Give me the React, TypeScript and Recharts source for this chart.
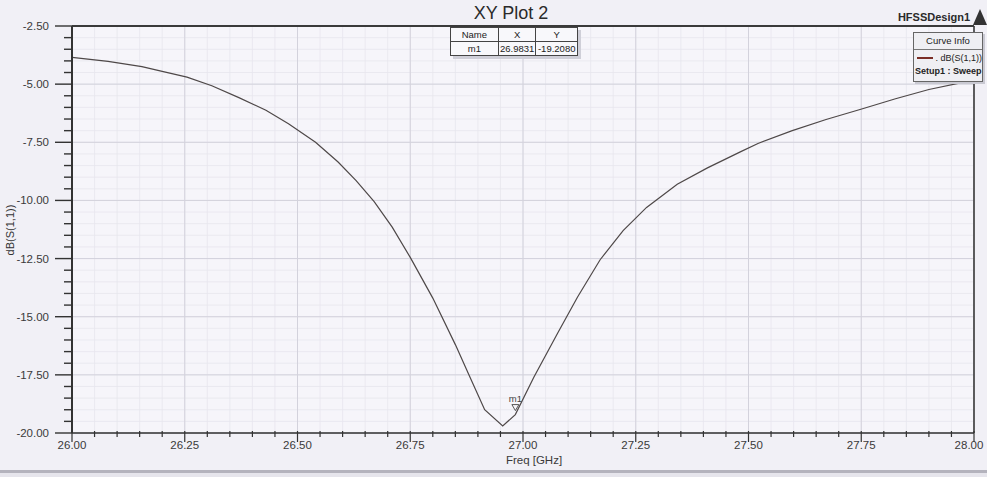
import React from 'react';
import { ComposedChart, Line, Scatter, XAxis, YAxis, CartesianGrid, ReferenceLine } from 'recharts';

// ---- data ----
const freqGHz = [
  26.0, 26.08, 26.155, 26.2, 26.255, 26.31, 26.37, 26.43, 26.48, 26.54, 26.59, 26.63, 26.67, 26.71,
  26.75, 26.8, 26.85, 26.88, 26.915, 26.955, 26.983, 27.024, 27.077, 27.121, 27.171, 27.222, 27.274,
  27.342, 27.409, 27.483, 27.521, 27.597, 27.672, 27.751, 27.826, 27.9, 27.978, 28.0,
];
const s11dB = [
  -3.85, -4.02, -4.25, -4.45, -4.7, -5.07, -5.58, -6.12, -6.7, -7.5, -8.35, -9.15, -10.05, -11.15,
  -12.45, -14.2, -16.2, -17.5, -19.0, -19.7, -19.208, -17.6, -15.7, -14.15, -12.55, -11.3, -10.3,
  -9.3, -8.6, -7.9, -7.55, -7.0, -6.52, -6.07, -5.63, -5.23, -4.91, -4.85,
];
const markerName = 'm1';
const markerFreq = 26.9831;
const markerDb = -19.208;

const xMajorTicks = [26.0, 26.25, 26.5, 26.75, 27.0, 27.25, 27.5, 27.75, 28.0];
const yMajorTicks = [-20, -17.5, -15, -12.5, -10, -7.5, -5, -2.5];
const xAllTicks = Array.from({ length: 41 }, (_, i) => Math.round((26 + i * 0.05) * 100) / 100);
const yAllTicks = Array.from({ length: 36 }, (_, i) => -20 + i * 0.5);

const curveData = freqGHz.map((f, i) => ({ f, db: s11dB[i] }));
const markerData = [{ f: markerFreq, db: markerDb }];

const FONT = '"Liberation Sans", Arial, sans-serif';
const isMajor = (v: number, arr: number[]) => arr.some((t) => Math.abs(t - v) < 1e-6);

const XTick = (props: any) => {
  const { x, y, payload } = props;
  const v = payload.value as number;
  const major = isMajor(v, xMajorTicks);
  const lx = v >= 28 ? x - 5 : x;
  return (
    <g>
      <line x1={x} x2={x} y1={y - 2} y2={y + (major ? 9 : 4)} stroke="#333" strokeWidth={1.2} />
      {major && (
        <text x={lx} y={y + 16} textAnchor="middle" fontSize={11.5} fill="#3a3a3a" fontFamily={FONT}>
          {v.toFixed(2)}
        </text>
      )}
    </g>
  );
};

const YTick = (props: any) => {
  const { x, y, payload } = props;
  const v = payload.value as number;
  const major = isMajor(v, yMajorTicks);
  return (
    <g>
      <line x1={x - (major ? 17 : 8)} x2={x} y1={y} y2={y} stroke="#333" strokeWidth={1.4} />
      {major && (
        <text x={x - 23} y={y + 4} textAnchor="end" fontSize={11.5} fill="#3a3a3a" fontFamily={FONT}>
          {v.toFixed(2)}
        </text>
      )}
    </g>
  );
};

const MarkerShape = (props: any) => {
  const { cx, cy } = props;
  return (
    <g>
      <path d={`M${cx - 3.5},${cy - 10} L${cx + 3.5},${cy - 10} L${cx},${cy - 4} Z`} fill="none" stroke="#444" strokeWidth={0.9} />
      <text x={cx} y={cy - 13} textAnchor="middle" fontSize={9.5} fill="#444" fontFamily={FONT}>
        {markerName}
      </text>
    </g>
  );
};

const cell: React.CSSProperties = {
  border: '1px solid #444',
  padding: 0,
  textAlign: 'center',
  fontSize: 9.5,
  lineHeight: '13px',
  color: '#222',
  fontFamily: FONT,
};

export default function App() {
  return (
    <div
      style={{
        position: 'absolute',
        left: 0,
        top: 0,
        width: 987,
        height: 477,
        background: '#f1f0f6',
        overflow: 'hidden',
        fontFamily: FONT,
      }}
    >
      <ComposedChart width={987} height={477} data={curveData} margin={{ top: 26, right: 13, bottom: 0, left: 0 }}>
        <CartesianGrid
          stroke="#e7e6ee"
          strokeWidth={0.8}
          fill="#f6f5fa"
          horizontalValues={yAllTicks}
          verticalValues={xAllTicks}
        />
        <CartesianGrid stroke="#d3d2dc" strokeWidth={1} horizontalValues={yMajorTicks} verticalValues={xMajorTicks} />
        <XAxis
          dataKey="f"
          type="number"
          domain={[26, 28]}
          ticks={xAllTicks}
          interval={0}
          allowDataOverflow
          height={44}
          tickLine={false}
          tickSize={0}
          tickMargin={0}
          axisLine={{ stroke: '#333', strokeWidth: 1.6 }}
          tick={(p: any) => <XTick {...p} />}
        />
        <YAxis
          dataKey="db"
          type="number"
          domain={[-20, -2.5]}
          ticks={yAllTicks}
          interval={0}
          allowDataOverflow
          width={72}
          tickLine={false}
          tickSize={0}
          tickMargin={0}
          axisLine={{ stroke: '#333', strokeWidth: 2 }}
          tick={(p: any) => <YTick {...p} />}
        />
        <ReferenceLine y={-2.5} stroke="#3a3a3a" strokeWidth={2} />
        <ReferenceLine x={28} stroke="#3a3a3a" strokeWidth={1.6} />
        <Line
          type="linear"
          dataKey="db"
          stroke="#4e4848"
          strokeWidth={1.2}
          dot={false}
          activeDot={false}
          isAnimationActive={false}
        />
        <Scatter data={markerData} dataKey="db" shape={(p: any) => <MarkerShape {...p} />} isAnimationActive={false} />
      </ComposedChart>

      <svg width={987} height={477} style={{ position: 'absolute', left: 0, top: 0, pointerEvents: 'none' }}>
        <text x={511} y={19} textAnchor="middle" fontSize={18} fill="#2a2a2a" fontFamily={FONT}>
          XY Plot 2
        </text>
        <text x={934} y={21} textAnchor="middle" fontSize={11} fontWeight="bold" fill="#2a2a2a" fontFamily={FONT}>
          HFSSDesign1
        </text>
        <path d="M973,25 L980,9 L987,25 Z" fill="#333" />
        <text
          transform="translate(14,230) rotate(-90)"
          textAnchor="middle"
          fontSize={11}
          fill="#333"
          fontFamily={FONT}
        >
          dB(S(1,1))
        </text>
        <text x={534} y={464} textAnchor="middle" fontSize={11.5} fill="#3a3a3a" fontFamily={FONT}>
          Freq [GHz]
        </text>
      </svg>

      {/* marker table */}
      <table
        style={{
          position: 'absolute',
          left: 450,
          top: 27,
          width: 128,
          borderCollapse: 'collapse',
          background: '#f8f8fb',
          boxShadow: '3px 3px 0 #cfcfd8',
        }}
      >
        <tbody>
          <tr>
            <td style={{ ...cell, width: 50 }}>Name</td>
            <td style={{ ...cell, width: 37 }}>X</td>
            <td style={{ ...cell, width: 41 }}>Y</td>
          </tr>
          <tr>
            <td style={cell}>{markerName}</td>
            <td style={cell}>{markerFreq.toFixed(4)}</td>
            <td style={cell}>{markerDb.toFixed(4)}</td>
          </tr>
        </tbody>
      </table>

      {/* curve info legend */}
      <div
        style={{
          position: 'absolute',
          left: 913,
          top: 32,
          width: 70,
          height: 50,
          border: '1px solid #666',
          background: '#efeff3',
          boxShadow: '2px 2px 0 #c9c9d2',
          boxSizing: 'border-box',
        }}
      >
        <div
          style={{
            height: 16,
            borderBottom: '1px solid #777',
            fontSize: 9.5,
            lineHeight: '16px',
            textAlign: 'center',
            color: '#222',
          }}
        >
          Curve Info
        </div>
        <div style={{ display: 'flex', alignItems: 'center', height: 15, paddingLeft: 3, fontSize: 9, color: '#222', whiteSpace: 'nowrap' }}>
          <span style={{ display: 'inline-block', width: 17, height: 2, background: '#7a2e26', marginRight: 2 }} />
          <span>. dB(S(1,1))</span>
        </div>
        <div style={{ height: 13, paddingLeft: 1, fontSize: 9, lineHeight: '12px', color: '#222', whiteSpace: 'nowrap', fontWeight: 'bold' }}>
          Setup1 : Sweep
        </div>
      </div>

      {/* bottom edge band of the photographed screen */}
      <div style={{ position: 'absolute', left: 0, top: 470, width: 987, height: 3, background: '#b4b3bd' }} />
      <div style={{ position: 'absolute', left: 0, top: 473, width: 987, height: 4, background: '#e6e5ec' }} />
    </div>
  );
}
